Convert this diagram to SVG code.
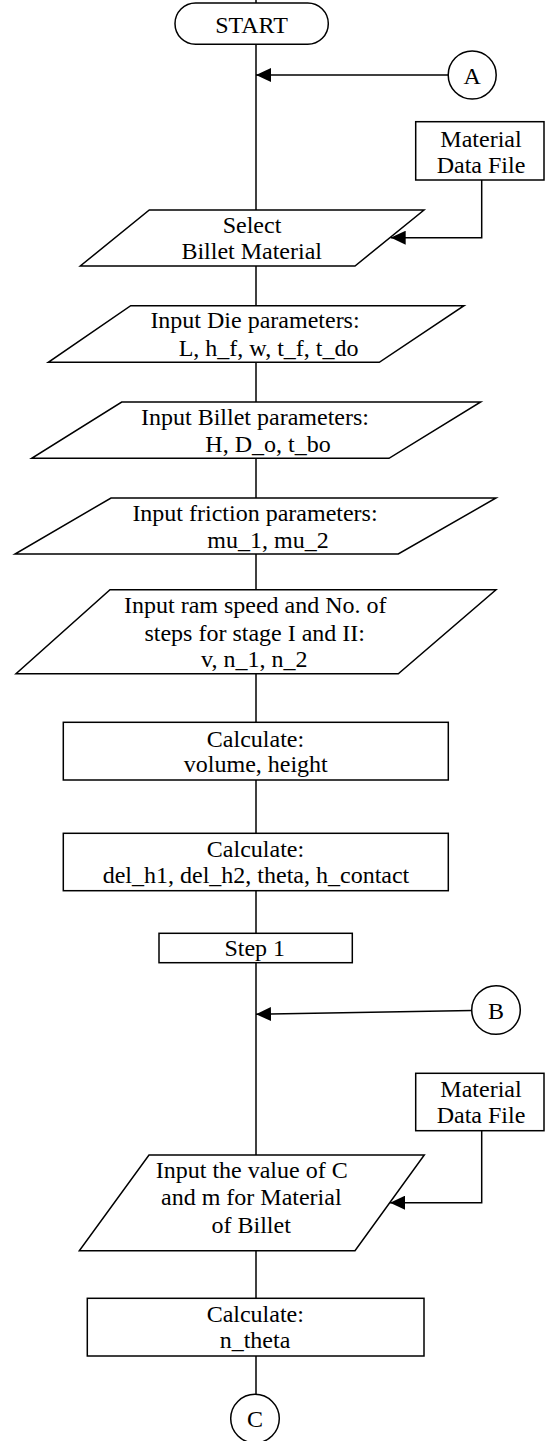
<svg xmlns="http://www.w3.org/2000/svg" width="545" height="1441" viewBox="0 0 545 1441">
<style>
.s{fill:#fff;stroke:#000;stroke-width:1.5}
.c{fill:none;stroke:#000;stroke-width:1.5}
text{font-family:"Liberation Serif","Times New Roman",serif;font-size:24px;fill:#000;text-anchor:middle}
</style>
<defs>
<marker id="ah" markerUnits="userSpaceOnUse" viewBox="0 0 15 14" markerWidth="15" markerHeight="14" refX="15" refY="7" orient="auto">
<path d="M0,0 L15,7 L0,14 Z" fill="#000"/>
</marker>
</defs>
<rect width="545" height="1441" fill="#fff"/>
<g id="connectors">
<line class="c" x1="256" y1="0" x2="256" y2="3"/>
<line class="c" x1="256" y1="44" x2="256" y2="210"/>
<line class="c" x1="256" y1="266" x2="256" y2="306"/>
<line class="c" x1="256" y1="362" x2="256" y2="402"/>
<line class="c" x1="256" y1="458" x2="256" y2="498"/>
<line class="c" x1="256" y1="554" x2="256" y2="590"/>
<line class="c" x1="256" y1="674" x2="256" y2="722"/>
<line class="c" x1="256" y1="780" x2="256" y2="833"/>
<line class="c" x1="256" y1="891" x2="256" y2="933"/>
<line class="c" x1="256" y1="963" x2="256" y2="1155"/>
<line class="c" x1="256" y1="1251" x2="256" y2="1298"/>
<line class="c" x1="256" y1="1356" x2="256" y2="1394"/>
<line class="c" x1="448" y1="75" x2="256" y2="75" marker-end="url(#ah)"/>
<line class="c" x1="472" y1="1010.5" x2="256" y2="1014.3" marker-end="url(#ah)"/>
<path class="c" d="M481.7,180 V237.7 H390.7" marker-end="url(#ah)"/>
<path class="c" d="M481.7,1130.7 V1202.7 H390" marker-end="url(#ah)"/>
</g>
<g id="start">
<rect class="s" x="175" y="3" width="153.3" height="41.3" rx="20.6" ry="20.6"/>
<text x="251.5" y="33">START</text>
</g>
<g id="connA">
<circle class="s" cx="472.2" cy="75" r="24"/>
<text x="472.2" y="83.5">A</text>
</g>
<g id="matfile1">
<rect class="s" x="415.7" y="121.7" width="128.3" height="58.3"/>
<text x="481" y="146.7">Material</text>
<text x="481" y="172.7">Data File</text>
</g>
<g id="select">
<polygon class="s" points="149.3,210 424,210 355,266 80.3,266"/>
<text x="252" y="233.3">Select</text>
<text x="251.7" y="259.3">Billet Material</text>
</g>
<g id="dieparams">
<polygon class="s" points="130.7,305.7 464,305.7 379.3,362.3 48.3,362.3"/>
<text x="255" y="328.3">Input Die parameters:</text>
<text x="268.6" y="356">L, h_f, w, t_f, t_do</text>
</g>
<g id="billetparams">
<polygon class="s" points="121.7,402 480.7,402 389,458.3 31.7,458.3"/>
<text x="255" y="425">Input Billet parameters:</text>
<text x="268" y="451.7">H, D_o, t_bo</text>
</g>
<g id="friction">
<polygon class="s" points="111,498 496,498 398.3,554 15,554"/>
<text x="255" y="521.3">Input friction parameters:</text>
<text x="268" y="548">mu_1, mu_2</text>
</g>
<g id="ramspeed">
<polygon class="s" points="110,589.7 496,589.7 398.3,673.7 16,673.7"/>
<text x="255.3" y="613">Input ram speed and No. of</text>
<text x="254.7" y="640.7">steps for stage I and II:</text>
<text x="254.2" y="667.3">v, n_1, n_2</text>
</g>
<g id="calc1">
<rect class="s" x="63.3" y="722.3" width="385" height="57.7"/>
<text x="255.5" y="746.7">Calculate:</text>
<text x="255.8" y="772.3">volume, height</text>
</g>
<g id="calc2">
<rect class="s" x="63.3" y="833.3" width="385" height="57.4"/>
<text x="255.5" y="856.7">Calculate:</text>
<text x="256" y="883.3">del_h1, del_h2, theta, h_contact</text>
</g>
<g id="step1">
<rect class="s" x="159" y="933.3" width="193.3" height="29.4"/>
<text x="254.8" y="955.7">Step 1</text>
</g>
<g id="connB">
<circle class="s" cx="496" cy="1010" r="24.3"/>
<text x="496" y="1018.5">B</text>
</g>
<g id="matfile2">
<rect class="s" x="415.7" y="1073.3" width="128.3" height="57.4"/>
<text x="481" y="1096.7">Material</text>
<text x="481" y="1123.3">Data File</text>
</g>
<g id="inputC">
<polygon class="s" points="149,1155 424.3,1155 355,1250.7 79.3,1250.7"/>
<text x="251.7" y="1178.3">Input the value of C</text>
<text x="251.3" y="1205">and m for Material</text>
<text x="251.2" y="1232.7">of Billet</text>
</g>
<g id="calc3">
<rect class="s" x="87.3" y="1298.3" width="336.7" height="57.7"/>
<text x="255.3" y="1321.7">Calculate:</text>
<text x="255" y="1348.3">n_theta</text>
</g>
<g id="connC">
<circle class="s" cx="255" cy="1418.6" r="24.3"/>
<text x="255" y="1427">C</text>
</g>
</svg>
